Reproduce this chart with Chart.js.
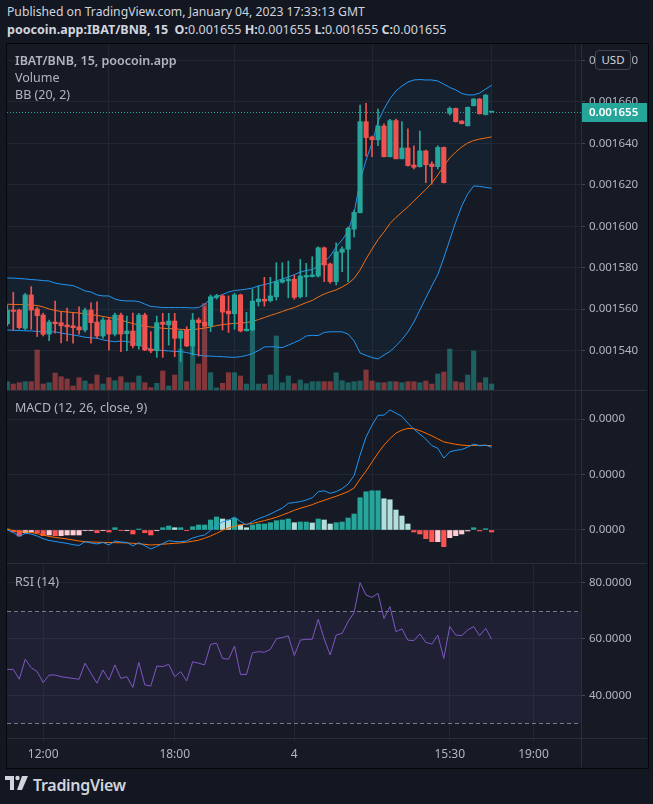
<!DOCTYPE html>
<html>
<head>
<meta charset="utf-8">
<script src="https://cdn.jsdelivr.net/npm/chart.js@4/dist/chart.umd.min.js"></script>
<style>
  html, body { margin: 0; padding: 0; background: #131722; }
  body { width: 653px; height: 804px; position: relative; overflow: hidden;
         font-family: 'Noto Sans', sans-serif; color: #d1d4dc; }
  .abs { position: absolute; white-space: nowrap; }
  .hline { position: absolute; height: 1px; background: #2a2e39; }
  .vline { position: absolute; width: 1px; background: #2a2e39; }
  #frame { left: 6px; top: 43px; width: 641px; height: 724px; background: #161a25; border: 1px solid #05070b; }
  #head1 { left: 7px; top: 4px; font-size: 12.2px; line-height: 16px; }
  #head2 { left: 7px; top: 22px; font-size: 12.5px; line-height: 16px; }
  #head2 b { font-weight: 700; }
  .legend { left: 15px; font-size: 12.5px; line-height: 16px; color: #b2b5be; }
  #usd { left: 595px; top: 50px; width: 34px; height: 18px; border: 1px solid #434651; border-radius: 4px;
         background: #161a25; font-size: 11.5px; line-height: 18px; text-align: center; color: #d1d4dc; }
  canvas { position: absolute; }
  #logo { left: 5px; top: 775px; }
  #logotext { left: 33px; top: 774px; font-size: 16px; line-height: 22px; font-weight: 600; color: #d1d4dc; letter-spacing: -0.3px; }
</style>
</head>
<body>
<div id="frame" class="abs"></div>
<div id="head1" class="abs">Published on TradingView.com, January 04, 2023 17:33:13 GMT</div>
<div id="head2" class="abs"><b>poocoin.app:IBAT/BNB, 15 &nbsp;O:</b>0.001655 <b>H:</b>0.001655 <b>L:</b>0.001655 <b>C:</b>0.001655</div>

<canvas id="main" width="641" height="346" style="left:7px; top:44px;"></canvas>
<canvas id="macd" width="641" height="172" style="left:7px; top:391px;"></canvas>
<canvas id="rsi" width="641" height="203" style="left:7px; top:564px;"></canvas>

<div class="hline" style="left:7px; top:390px; width:640px;"></div>
<div class="hline" style="left:7px; top:563px; width:640px;"></div>
<div class="hline" style="left:7px; top:738px; width:640px;"></div>
<div class="vline" style="left:581px; top:44px; height:723px;"></div>

<div class="abs legend" style="top:53px; font-weight:600;">IBAT/BNB, 15, poocoin.app</div>
<div class="abs legend" style="top:70px;">Volume</div>
<div class="abs legend" style="top:87px;">BB (20, 2)</div>
<div class="abs legend" style="top:400px;">MACD (12, 26, close, 9)</div>
<div class="abs legend" style="top:574px;">RSI (14)</div>
<div id="usd" class="abs">USD</div>

<svg id="logo" class="abs" width="26" height="18" viewBox="0 0 26 18">
  <path d="M0 1 h9 v14 h-4 v-10 h-5 z" fill="#d1d4dc"/>
  <circle cx="12.5" cy="3" r="2.2" fill="#d1d4dc"/>
  <path d="M17 1 h6 l-6 14 h-5 z" fill="#d1d4dc"/>
</svg>
<div id="logotext" class="abs">TradingView</div>

<script>
// prices in 1e-6 BNB, one entry per 15 minute bar
const open = [1553.0, 1559.6, 1559.6, 1550.8, 1566.9, 1560.1, 1557.2, 1548.0, 1553.8, 1553.5,
  1552.4, 1552.0, 1551.5, 1550.0, 1559.6, 1553.8, 1547.1, 1554.8, 1548.0, 1557.2,
  1548.2, 1549.5, 1542.4, 1557.2, 1540.8, 1540.0, 1553.7, 1552.4, 1554.3, 1546.0,
  1550.0, 1542.3, 1554.8, 1553.7, 1551.9, 1565.7, 1566.4, 1559.1, 1557.8, 1566.9,
  1549.6, 1550.0, 1563.6, 1564.8, 1564.1, 1566.0, 1573.0, 1573.7, 1574.5, 1566.0,
  1575.5, 1575.7, 1576.0, 1589.6, 1581.8, 1573.3, 1587.4, 1588.9, 1598.6, 1606.5,
  1650.4, 1643.0, 1641.6, 1648.3, 1633.5, 1650.9, 1632.5, 1637.7, 1629.5, 1628.7,
  1636.3, 1630.0, 1628.7, 1638.0, 1654.4, 1656.8, 1650.7, 1648.4, 1658.1, 1661.3,
  1653.8, 1655.0];
const high = [1562.0, 1568.1, 1560.1, 1567.6, 1570.9, 1561.0, 1558.1, 1554.8, 1563.9, 1558.8,
  1560.6, 1558.3, 1561.2, 1560.6, 1563.1, 1563.6, 1555.8, 1555.8, 1558.1, 1558.1,
  1556.7, 1558.1, 1558.0, 1558.1, 1549.2, 1556.7, 1558.0, 1558.0, 1558.0, 1550.0,
  1551.6, 1558.0, 1555.8, 1561.2, 1566.9, 1567.2, 1566.9, 1566.4, 1567.6, 1567.3,
  1558.5, 1569.6, 1571.2, 1575.4, 1575.4, 1582.4, 1582.4, 1583.2, 1576.5, 1584.0,
  1582.1, 1585.3, 1590.1, 1590.0, 1582.3, 1592.0, 1590.1, 1599.6, 1607.8, 1658.4,
  1659.2, 1643.5, 1656.5, 1649.3, 1651.5, 1651.7, 1650.4, 1646.9, 1638.8, 1645.9,
  1636.7, 1631.1, 1638.8, 1638.2, 1657.5, 1657.0, 1650.9, 1657.5, 1661.6, 1661.6,
  1663.5, 1655.0];
const low = [1551.9, 1550.0, 1550.4, 1550.0, 1550.3, 1546.8, 1547.1, 1544.8, 1548.5, 1543.8,
  1544.7, 1543.6, 1548.0, 1549.0, 1543.6, 1546.1, 1546.0, 1540.3, 1547.1, 1539.5,
  1540.0, 1541.3, 1540.7, 1540.0, 1539.0, 1536.8, 1536.8, 1542.7, 1537.1, 1534.7,
  1541.9, 1537.9, 1537.4, 1551.4, 1549.2, 1564.9, 1550.0, 1548.8, 1550.3, 1549.0,
  1549.5, 1549.5, 1561.5, 1561.5, 1563.5, 1564.4, 1572.6, 1565.5, 1564.8, 1565.4,
  1566.0, 1575.5, 1575.5, 1573.3, 1572.5, 1571.7, 1578.1, 1573.3, 1594.9, 1606.4,
  1633.8, 1633.5, 1638.8, 1633.4, 1633.4, 1632.4, 1632.4, 1629.0, 1627.6, 1628.5,
  1621.0, 1620.3, 1627.6, 1620.8, 1653.6, 1650.2, 1649.3, 1648.3, 1657.9, 1654.1,
  1653.6, 1655.0];
const close = [1559.6, 1558.9, 1551.1, 1566.9, 1559.6, 1556.9, 1547.9, 1553.8, 1553.0, 1552.0,
  1551.5, 1551.1, 1550.0, 1559.6, 1553.5, 1547.1, 1554.8, 1548.0, 1557.2, 1548.0,
  1549.5, 1542.4, 1557.2, 1540.3, 1539.9, 1553.5, 1552.7, 1554.3, 1546.0, 1549.5,
  1542.3, 1554.8, 1553.5, 1552.0, 1566.0, 1566.5, 1558.6, 1557.8, 1566.9, 1549.5,
  1550.4, 1563.9, 1564.9, 1563.9, 1566.4, 1573.3, 1574.1, 1574.5, 1565.7, 1576.0,
  1576.3, 1576.5, 1589.6, 1581.3, 1573.3, 1587.7, 1589.0, 1599.0, 1606.7, 1650.4,
  1642.7, 1641.7, 1648.3, 1633.5, 1650.9, 1632.5, 1637.7, 1629.2, 1628.4, 1636.3,
  1629.6, 1628.7, 1638.0, 1621.0, 1656.8, 1650.4, 1649.4, 1657.3, 1661.3, 1654.2,
  1663.2, 1655.0];
// volume, relative units
const volume = [8.3, 6, 7.3, 8.3, 8.3, 40, 6, 7.3, 17, 13.3,
  11, 4, 12.3, 9, 6, 15, 6, 12.3, 9.3, 13.3,
  7.3, 7.3, 14, 7.3, 2.3, 6.7, 19, 4, 15, 41,
  8.3, 44, 26, 86.7, 17.3, 2, 6.7, 17.3, 17.3, 14,
  6, 61.7, 6, 6, 15, 54, 7.3, 14, 6.3, 10,
  6.3, 8.3, 8.3, 8.3, 8.3, 17.3, 9.3, 7.3, 8.3, 9,
  20, 9, 7.3, 7.3, 8.3, 8.3, 7.3, 8.3, 8.3, 7.3,
  9, 6, 16, 18, 41, 8.3, 7.3, 15, 39, 7.3,
  12.3, 6];
// Bollinger bands (20, 2)
const bbUpper = [1575.0, 1575.0, 1574.8, 1574.6, 1574.3, 1574.1, 1573.8, 1573.6, 1572.6, 1572.1,
  1571.7, 1571.4, 1570.2, 1568.8, 1568.3, 1566.9, 1566.4, 1566.4, 1564.9, 1564.2,
  1564.0, 1564.0, 1563.7, 1562.5, 1561.3, 1561.1, 1560.8, 1560.8, 1560.8, 1560.8,
  1560.8, 1560.6, 1560.8, 1562.5, 1564.9, 1566.1, 1567.1, 1568.3, 1569.0, 1569.3,
  1569.7, 1570.2, 1571.2, 1571.9, 1572.6, 1573.6, 1574.6, 1575.5, 1576.7, 1577.9,
  1578.7, 1579.1, 1580.8, 1582.8, 1585.6, 1590.0, 1593.4, 1597.7, 1606.4, 1621.8,
  1631.9, 1640.1, 1650.5, 1656.5, 1661.5, 1665.2, 1667.6, 1669.5, 1670.5, 1670.7,
  1670.5, 1670.5, 1670.0, 1668.5, 1666.9, 1665.7, 1664.0, 1663.3, 1663.3, 1664.2,
  1666.1, 1668.0];
const bbMid = [1562.4, 1562.3, 1562.3, 1562.1, 1562.0, 1561.8, 1561.1, 1560.1, 1559.4, 1558.9,
  1558.7, 1558.4, 1558.2, 1557.7, 1557.4, 1557.0, 1556.5, 1556.0, 1555.5, 1554.8,
  1553.8, 1553.1, 1552.4, 1551.9, 1551.4, 1551.2, 1550.8, 1550.7, 1550.5, 1550.3,
  1550.2, 1550.2, 1550.5, 1550.9, 1551.4, 1552.1, 1552.6, 1552.9, 1553.2, 1553.3,
  1553.6, 1554.1, 1555.0, 1556.0, 1557.0, 1557.9, 1558.9, 1559.9, 1560.8, 1562.0,
  1563.2, 1564.2, 1565.9, 1567.3, 1568.4, 1569.3, 1570.7, 1572.4, 1574.8, 1578.9,
  1584.2, 1589.0, 1593.5, 1597.2, 1601.3, 1604.2, 1606.8, 1609.3, 1612.2, 1615.0,
  1617.7, 1620.8, 1624.7, 1629.0, 1632.9, 1635.8, 1638.2, 1640.1, 1641.3, 1642.0,
  1642.5, 1643.1];
const bbLower = [1550.0, 1549.8, 1549.7, 1549.6, 1549.5, 1549.3, 1549.1, 1549.1, 1549.1, 1548.5,
  1548.0, 1547.6, 1547.1, 1546.5, 1546.2, 1546.0, 1545.2, 1544.7, 1544.3, 1544.7,
  1544.4, 1543.9, 1542.7, 1541.8, 1540.7, 1540.3, 1540.1, 1539.9, 1539.6, 1539.6,
  1539.1, 1538.4, 1537.9, 1537.4, 1537.4, 1537.2, 1537.1, 1536.9, 1536.8, 1537.1,
  1537.7, 1538.6, 1540.1, 1541.8, 1541.9, 1541.8, 1541.5, 1542.7, 1543.9, 1545.2,
  1547.1, 1547.4, 1547.3, 1548.8, 1549.1, 1549.1, 1549.1, 1548.0, 1544.7, 1538.9,
  1537.7, 1536.7, 1536.0, 1537.9, 1539.6, 1542.3, 1545.4, 1549.0, 1553.8, 1559.6,
  1565.4, 1571.2, 1576.7, 1584.7, 1593.4, 1602.0, 1609.7, 1615.5, 1619.4, 1619.2,
  1618.7, 1618.3];
// MACD (12, 26, close, 9), in 1e-6
const macd = [0, -0.45, -1.17, -0.59, -0.72, -1.08, -1.57, -1.89, -2.07, -2.25,
  -2.41, -2.65, -2.79, -2.11, -2.34, -2.52, -2.25, -2.7, -1.98, -2.16,
  -2.25, -2.88, -2.29, -2.84, -3.42, -2.97, -2.43, -1.93, -2.07, -2.11,
  -1.98, -1.44, -1.13, -0.9, -0.09, 0.81, 1.44, 1.76, 2.34, 1.53,
  0.9, 1.53, 2.03, 2.43, 2.88, 3.42, 3.96, 4.81, 4.95, 5.11,
  5.4, 5.81, 6.89, 7.07, 6.61, 6.93, 7.45, 8.28, 9.81, 13.5,
  16.74, 18.9, 20.66, 20.7, 21.65, 21.06, 20.47, 19.26, 18.18, 17.28,
  16.38, 15.21, 14.72, 12.96, 14.08, 14.36, 14.49, 14.94, 15.48, 15.17,
  15.3, 14.9];
const signal = [0.11, -0.09, -0.29, -0.36, -0.45, -0.65, -0.9, -1.17, -1.33, -1.48,
  -1.62, -1.8, -1.98, -2.11, -2.16, -2.2, -2.23, -2.25, -2.29, -2.3,
  -2.34, -2.39, -2.48, -2.59, -2.7, -2.63, -2.56, -2.48, -2.41, -2.32,
  -2.2, -2.02, -1.84, -1.49, -1.08, -0.61, -0.05, 0.36, 0.67, 0.9,
  1.04, 1.19, 1.44, 1.69, 1.98, 2.3, 2.7, 3.11, 3.55, 3.92,
  4.23, 4.57, 4.99, 5.35, 5.72, 6.08, 6.48, 6.93, 7.56, 9.18,
  10.62, 12.24, 13.86, 15.3, 16.47, 17.46, 18.0, 18.31, 18.25, 17.91,
  17.46, 16.97, 16.43, 15.88, 15.66, 15.44, 15.3, 15.21, 15.23, 15.26,
  15.26, 15.19];
const hist = [0.18, -0.36, -1.08, -0.49, -0.41, -0.49, -1.03, -0.9, -1.03, -1.03,
  -0.9, -0.9, -0.9, -0.13, -0.13, -0.49, -0.13, -0.36, 0.41, -0.13,
  -0.13, -0.72, 0.18, -0.49, -0.9, -0.13, 0.41, 0.72, 0.41, 0.41,
  -0.13, 0.59, 0.9, 0.9, 1.8, 2.34, 1.98, 1.8, 2.11, 0.9,
  0.41, 0.9, 1.08, 1.08, 1.31, 1.67, 1.8, 1.98, 1.31, 1.44,
  1.44, 1.26, 1.98, 1.8, 1.08, 1.31, 1.44, 2.16, 2.88, 5.81,
  6.89, 7.07, 7.07, 5.63, 5.45, 3.6, 2.52, 1.08, -0.36, -0.72,
  -1.57, -2.11, -2.11, -3.01, -1.39, -1.03, -0.72, -0.18, 0.41, -0.18,
  0.23, -0.36];
// RSI (14)
const rsi = [49.2, 49.2, 45.7, 52.8, 49.8, 48.4, 44.5, 47.2, 47.2, 46.6,
  46.3, 46.0, 45.7, 51.4, 47.8, 44.3, 49.0, 45.4, 50.8, 46.0,
  46.6, 42.8, 51.7, 43.7, 43.3, 50.4, 50.2, 51.0, 46.6, 48.4,
  45.1, 51.9, 51.4, 50.8, 58.1, 58.5, 53.1, 52.8, 57.5, 47.4,
  47.4, 55.1, 55.5, 55.3, 56.3, 60.1, 60.5, 61.1, 54.1, 59.6,
  59.9, 59.9, 67.0, 60.0, 54.3, 61.4, 62.0, 66.2, 69.4, 80.0,
  75.6, 74.8, 76.2, 67.3, 71.5, 62.6, 63.6, 59.6, 59.4, 61.8,
  58.8, 58.2, 61.4, 53.1, 64.4, 61.4, 61.2, 63.2, 64.4, 61.2,
  63.8, 59.9];
// time axis: bar index and label
const timeTickIndex = [6, 28, 48, 74, 88];
const timeTickLabels = ['12:00', '18:00', '4', '15:30', '19:00'];

const UP = '#26a69a', DOWN = '#ef5350';
const GRID = '#222632', TEXT = '#b2b5be';
const X_MIN = -0.05, X_MAX = 95.95; // room on the right like the original

Chart.defaults.font.family = "'Noto Sans', sans-serif";
Chart.defaults.font.size = 12;
Chart.defaults.animation = false;
Chart.defaults.events = [];
Chart.defaults.plugins.legend.display = false;
Chart.defaults.plugins.tooltip.enabled = false;

const pts = arr => arr.map((v, i) => ({ x: i, y: v }));
const isUp = i => close[i] >= open[i];

function xAxis(showLabels) {
  return {
    type: 'linear', min: X_MIN, max: X_MAX, offset: false,
    afterBuildTicks: s => { s.ticks = timeTickIndex.map(v => ({ value: v })); },
    grid: { color: GRID, drawTicks: showLabels, tickLength: 4 },
    border: { display: false },
    ticks: { display: showLabels, autoSkip: false, maxRotation: 0, color: TEXT, padding: 5,
             callback: v => timeTickLabels[timeTickIndex.indexOf(v)] },
    afterFit: s => { s.height = showLabels ? 29 : 0; s.paddingLeft = 0; s.paddingRight = 0; }
  };
}

function yAxis(min, max, step, fmt) {
  return {
    position: 'right', min: min, max: max,
    grid: { color: GRID, tickLength: 4, tickColor: '#434651' },
    border: { display: false },
    ticks: { stepSize: step, includeBounds: false, autoSkip: false, color: TEXT, padding: 4,
             font: { size: 11.5 }, callback: fmt },
    afterFit: s => { s.width = 67; s.paddingTop = 0; s.paddingBottom = 0; }
  };
}

const lastPrice = close[close.length - 1];
const lastPricePlugin = {
  id: 'lastPrice',
  beforeDatasetsDraw(chart) {
    const { ctx, chartArea, scales } = chart;
    const y = Math.round(scales.y.getPixelForValue(lastPrice)) + 0.5;
    ctx.save();
    ctx.strokeStyle = UP;
    ctx.lineWidth = 1;
    ctx.setLineDash([1, 2]);
    ctx.beginPath();
    ctx.moveTo(chartArea.left, y);
    ctx.lineTo(chartArea.right, y);
    ctx.stroke();
    ctx.restore();
  },
  afterDraw(chart) {
    const { ctx, chartArea, scales } = chart;
    const y = scales.y.getPixelForValue(lastPrice);
    ctx.save();
    ctx.fillStyle = UP;
    ctx.fillRect(chartArea.right, Math.round(y - 9.5), 66, 19);
    ctx.fillStyle = '#ffffff';
    ctx.font = "600 11.5px 'Noto Sans', sans-serif";
    ctx.textBaseline = 'middle';
    ctx.fillText((lastPrice / 1e6).toFixed(6), chartArea.right + 8, y + 0.5);
    ctx.restore();
  }
};

new Chart(document.getElementById('main'), {
  type: 'bar',
  data: {
    datasets: [
      { type: 'bar', yAxisID: 'yv', data: pts(volume), grouped: false, barThickness: 4.5, order: 10,
        backgroundColor: volume.map((v, i) => isUp(i) ? 'rgba(38,166,154,0.5)' : 'rgba(239,83,80,0.5)') },
      { type: 'line', data: pts(bbUpper), borderColor: '#2196f3', borderWidth: 1, pointRadius: 0,
        fill: '+2', backgroundColor: 'rgba(33,150,243,0.06)', order: 5 },
      { type: 'line', data: pts(bbMid), borderColor: '#ff6d00', borderWidth: 1, pointRadius: 0, fill: false, order: 5 },
      { type: 'line', data: pts(bbLower), borderColor: '#2196f3', borderWidth: 1, pointRadius: 0, fill: false, order: 5 },
      { type: 'bar', data: low.map((l, i) => ({ x: i, y: [l, high[i]] })), grouped: false, barThickness: 1, order: 2,
        backgroundColor: low.map((l, i) => isUp(i) ? UP : DOWN) },
      { type: 'bar', data: open.map((o, i) => ({ x: i, y: [o, close[i]] })), grouped: false, barThickness: 4.5,
        minBarLength: 1, order: 1, backgroundColor: open.map((o, i) => isUp(i) ? UP : DOWN) }
    ]
  },
  options: {
    responsive: false,
    layout: { padding: 0 },
    scales: {
      x: xAxis(false),
      y: yAxis(1521.06, 1687.83, 20, v => (v / 1e6).toFixed(6)),
      yv: { display: false, min: 0, max: 346 }
    }
  },
  plugins: [lastPricePlugin]
});

const histColors = hist.map((v, i) => {
  const prev = i > 0 ? hist[i - 1] : v;
  if (v >= 0) return v >= prev ? '#26a69a' : '#b2dfdb';
  return v < prev ? '#ff5252' : '#ffcdd2';
});

new Chart(document.getElementById('macd'), {
  type: 'bar',
  data: {
    datasets: [
      { type: 'bar', data: pts(hist), backgroundColor: histColors, barThickness: 4.5, grouped: false, order: 3 },
      { type: 'line', data: pts(macd), borderColor: '#2196f3', borderWidth: 1, pointRadius: 0, order: 1 },
      { type: 'line', data: pts(signal), borderColor: '#ff6d00', borderWidth: 1, pointRadius: 0, order: 2 }
    ]
  },
  options: {
    responsive: false,
    layout: { padding: 0 },
    scales: {
      x: xAxis(false),
      y: yAxis(-5.95, 25.05, 10, v => (v / 1e6).toFixed(4))
    }
  }
});

const rsiBandPlugin = {
  id: 'rsiBand',
  beforeDatasetsDraw(chart) {
    const { ctx, chartArea, scales } = chart;
    const y70 = Math.round(scales.y.getPixelForValue(70)) + 0.5;
    const y30 = Math.round(scales.y.getPixelForValue(30)) + 0.5;
    ctx.save();
    ctx.fillStyle = 'rgba(126,87,194,0.1)';
    ctx.fillRect(chartArea.left, y70, chartArea.right - chartArea.left, y30 - y70);
    ctx.strokeStyle = '#787b86';
    ctx.lineWidth = 1;
    ctx.setLineDash([4, 3]);
    ctx.beginPath();
    ctx.moveTo(chartArea.left, y70); ctx.lineTo(chartArea.right, y70);
    ctx.moveTo(chartArea.left, y30); ctx.lineTo(chartArea.right, y30);
    ctx.stroke();
    ctx.restore();
  }
};

new Chart(document.getElementById('rsi'), {
  type: 'line',
  data: {
    datasets: [
      { data: pts(rsi), borderColor: '#7e57c2', borderWidth: 1, pointRadius: 0, fill: false }
    ]
  },
  options: {
    responsive: false,
    layout: { padding: 0 },
    scales: {
      x: xAxis(true),
      y: yAxis(24.83, 86.64, 20, v => v.toFixed(4))
    }
  },
  plugins: [rsiBandPlugin]
});
</script>
</body>
</html>
